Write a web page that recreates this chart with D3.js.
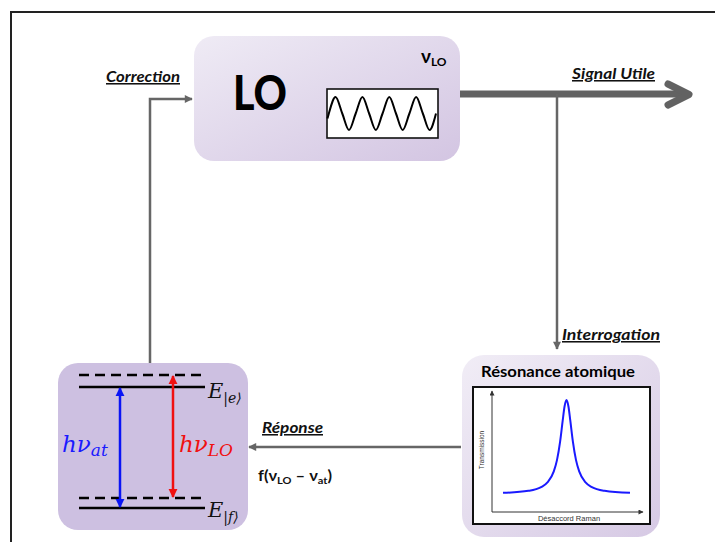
<!DOCTYPE html>
<html><head><meta charset="utf-8">
<script src="https://cdn.jsdelivr.net/npm/d3@7"></script>
<style>
html,body{margin:0;padding:0;background:#fff;}
svg{display:block;}
</style></head>
<body>
<script>
// ---- data ----
const labels = ["Correction", "Signal Utile", "Interrogation", "Réponse"];
const boxTitles = ["LO", "Résonance atomique"];
// LO oscillator trace (cycles, amplitude)
const waveT = [0, 0.05, 0.3, 0.55, 0.8, 1.05, 1.3, 1.55, 1.8, 2.05, 2.3, 2.55, 2.8, 3.05, 3.3, 3.55, 3.8, 4.04];
const waveV = [-0.3, 0, 1, 0, -1, 0, 1, 0, -1, 0, 1, 0, -1, 0, 1, 0, -1, 0];
// Atomic resonance: Raman detuning vs transmission
const detuning = [-1, -0.6, -0.4, -0.3, -0.2, -0.15, -0.1, -0.06, -0.03, 0, 0.03, 0.06, 0.1, 0.15, 0.2, 0.3, 0.4, 0.6, 1];
const transmission = [0.012, 0.034, 0.073, 0.123, 0.24, 0.36, 0.56, 0.78, 0.934, 1, 0.934, 0.78, 0.56, 0.36, 0.24, 0.123, 0.073, 0.034, 0.012];
const axisLabels = ["Désaccord Raman", "Transmission"];

const W = 715, H = 542;
const svg = d3.select("body").append("svg").attr("width", W).attr("height", H);
const defs = svg.append("defs");

function grad(id, c1, c2) {
  const g = defs.append("linearGradient").attr("id", id)
    .attr("x1", "0%").attr("y1", "0%").attr("x2", "100%").attr("y2", "100%");
  g.append("stop").attr("offset", "0%").attr("stop-color", c1);
  g.append("stop").attr("offset", "100%").attr("stop-color", c2);
}
grad("gLO", "#efebf5", "#d3c5e2");
grad("gRes", "#f1edf6", "#d6c9e4");

function marker(id, color, w, h) {
  defs.append("marker").attr("id", id).attr("viewBox", "0 0 10 10")
    .attr("refX", 9).attr("refY", 5).attr("markerWidth", w).attr("markerHeight", h)
    .attr("orient", "auto-start-reverse").attr("markerUnits", "userSpaceOnUse")
    .append("path").attr("d", "M0,0 L10,5 L0,10 Z").attr("fill", color);
}
marker("mGray", "#666", 9, 8);
marker("mAx", "#333", 6, 5);
marker("mBlue", "#0a14f5", 9, 10);
marker("mRed", "#f01010", 9, 10);

// outer frame
svg.append("rect").attr("x", 11).attr("y", 12).attr("width", 800).attr("height", 700)
  .attr("fill", "none").attr("stroke", "#222").attr("stroke-width", 2);

const gray = "#666";
const boldItal = "font-family:Lato,'Open Sans',sans-serif;font-weight:700;font-style:italic;text-decoration:underline;";

// ---- connectors ----
svg.append("line").attr("x1", 460).attr("y1", 94).attr("x2", 688).attr("y2", 94)
  .attr("stroke", "#626262").attr("stroke-width", 7);
svg.append("path").attr("d", "M668,84 L689,94.5 L668,105").attr("fill", "none")
  .attr("stroke", "#626262").attr("stroke-width", 7).attr("stroke-linecap", "round").attr("stroke-linejoin", "round");
svg.append("line").attr("x1", 557).attr("y1", 94).attr("x2", 557).attr("y2", 349)
  .attr("stroke", gray).attr("stroke-width", 2.5).attr("marker-end", "url(#mGray)");
svg.append("path").attr("d", "M150,363 L150,99 L192,99").attr("fill", "none")
  .attr("stroke", gray).attr("stroke-width", 2.5).attr("marker-end", "url(#mGray)");
svg.append("line").attr("x1", 461).attr("y1", 447).attr("x2", 249).attr("y2", 447)
  .attr("stroke", gray).attr("stroke-width", 2.5).attr("marker-end", "url(#mGray)");

const labPos = [[106, 82, 74], [572, 79, 83], [562, 340, 98], [262, 433, 61]];
labels.forEach((t, i) => {
  svg.append("text").attr("x", labPos[i][0]).attr("y", labPos[i][1])
    .attr("textLength", labPos[i][2]).attr("lengthAdjust", "spacingAndGlyphs")
    .attr("style", boldItal + "font-size:15.5px;fill:#111;").text(t);
});

// f(νLO − νat)
const ft = svg.append("text").attr("x", 258).attr("y", 481)
  .attr("textLength", 74).attr("lengthAdjust", "spacingAndGlyphs")
  .attr("style", "font-family:Lato,'Open Sans',sans-serif;font-weight:700;font-size:15px;fill:#111;");
ft.append("tspan").text("f(ν");
ft.append("tspan").attr("dy", 3).attr("font-size", 10).text("LO");
ft.append("tspan").attr("dy", -3).text(" – ν");
ft.append("tspan").attr("dy", 3).attr("font-size", 10).text("at");
ft.append("tspan").attr("dy", -3).text(")");

// ---- LO box ----
svg.append("rect").attr("x", 194).attr("y", 36).attr("width", 266).attr("height", 125)
  .attr("rx", 20).attr("fill", "url(#gLO)");
svg.append("text").attr("x", 233).attr("y", 110).attr("textLength", 54).attr("lengthAdjust", "spacingAndGlyphs")
  .attr("style", "font-family:Lato,'Open Sans',sans-serif;font-weight:900;font-size:47px;fill:#000;").text(boxTitles[0]);
const nu = svg.append("text").attr("x", 421).attr("y", 63)
  .attr("style", "font-family:Lato,'Open Sans',sans-serif;font-weight:700;font-size:19px;fill:#000;");
nu.append("tspan").text("ν");
nu.append("tspan").attr("dy", 3).attr("font-size", 12).text("LO");

svg.append("rect").attr("x", 327).attr("y", 89).attr("width", 111).attr("height", 49)
  .attr("fill", "#fff").attr("stroke", "#111").attr("stroke-width", 1.6);
const wx = d3.scaleLinear().domain([0, 4.04]).range([327.5, 436]);
const wy = d3.scaleLinear().domain([-1, 1]).range([130, 97]);
svg.append("path").datum(waveT.map((t, i) => [t, waveV[i]]))
  .attr("d", d3.line().x(d => wx(d[0])).y(d => wy(d[1])).curve(d3.curveMonotoneX))
  .attr("fill", "none").attr("stroke", "#000").attr("stroke-width", 2);

// ---- Energy level box ----
svg.append("rect").attr("x", 58).attr("y", 363).attr("width", 190).attr("height", 167)
  .attr("rx", 20).attr("fill", "#cdc0e1");
[[375, true], [387, false], [498, true], [508, false]].forEach(([y, dash]) => {
  svg.append("line").attr("x1", 79).attr("x2", 205).attr("y1", y).attr("y2", y)
    .attr("stroke", "#000").attr("stroke-width", 2.5)
    .attr("stroke-dasharray", dash ? "10,6" : null);
});
svg.append("line").attr("x1", 120).attr("x2", 120).attr("y1", 388).attr("y2", 507)
  .attr("stroke", "#0a14f5").attr("stroke-width", 2.5)
  .attr("marker-start", "url(#mBlue)").attr("marker-end", "url(#mBlue)");
svg.append("line").attr("x1", 173).attr("x2", 173).attr("y1", 376).attr("y2", 497)
  .attr("stroke", "#f01010").attr("stroke-width", 2.5)
  .attr("marker-start", "url(#mRed)").attr("marker-end", "url(#mRed)");

const serif = "font-family:'DejaVu Serif','Liberation Serif',serif;font-style:italic;";
function mathLabel(x, y, main, sub, color, fs, sfs, dy) {
  const t = svg.append("text").attr("x", x).attr("y", y).attr("style", serif + `font-size:${fs}px;fill:${color};`);
  t.append("tspan").text(main);
  t.append("tspan").attr("dy", dy).attr("font-size", sfs).text(sub);
}
mathLabel(62, 452, "hν", "at", "#1a1aff", 23, 17, 4);
mathLabel(179, 452, "hν", "LO", "#f01010", 23, 17, 4);
mathLabel(208, 398, "E", "|e⟩", "#111", 21, 14, 5);
mathLabel(208, 517, "E", "|f⟩", "#111", 21, 14, 5);

// ---- Résonance box ----
svg.append("rect").attr("x", 462).attr("y", 355).attr("width", 198).attr("height", 182)
  .attr("rx", 22).attr("fill", "url(#gRes)");
svg.append("text").attr("x", 481).attr("y", 377).attr("textLength", 154).attr("lengthAdjust", "spacingAndGlyphs")
  .attr("style", "font-family:Lato,'Open Sans',sans-serif;font-weight:700;font-size:16px;fill:#000;").text(boxTitles[1]);
svg.append("rect").attr("x", 473).attr("y", 387).attr("width", 177).attr("height", 137)
  .attr("fill", "#fff").attr("stroke", "#111").attr("stroke-width", 2);
svg.append("line").attr("x1", 492).attr("y1", 512).attr("x2", 492).attr("y2", 391)
  .attr("stroke", "#333").attr("stroke-width", 1).attr("marker-end", "url(#mAx)");
svg.append("line").attr("x1", 492).attr("y1", 512).attr("x2", 643).attr("y2", 512)
  .attr("stroke", "#333").attr("stroke-width", 1).attr("marker-end", "url(#mAx)");
svg.append("text").attr("x", 569).attr("y", 521).attr("text-anchor", "middle")
  .attr("style", "font-family:'Liberation Sans',Arial,sans-serif;font-size:7.5px;fill:#333;").text(axisLabels[0]);
svg.append("text").attr("transform", "translate(484,450) rotate(-90)").attr("text-anchor", "middle")
  .attr("style", "font-family:'Liberation Sans',Arial,sans-serif;font-size:6.5px;fill:#333;").text(axisLabels[1]);

const rx = d3.scaleLinear().domain([-1, 1]).range([503, 630]);
const ry = d3.scaleLinear().domain([0, 1]).range([494, 400]);
svg.append("path").datum(detuning.map((d, i) => [d, transmission[i]]))
  .attr("d", d3.line().x(d => rx(d[0])).y(d => ry(d[1])).curve(d3.curveMonotoneX))
  .attr("fill", "none").attr("stroke", "#1a1aff").attr("stroke-width", 2);
</script>
</body></html>
